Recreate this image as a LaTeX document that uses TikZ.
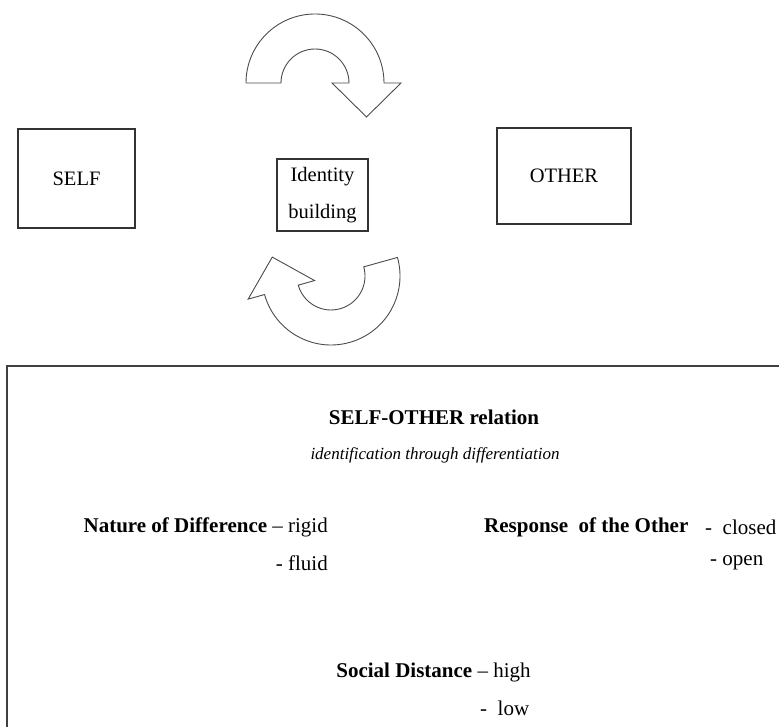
\documentclass[tikz,border=0pt]{standalone}
\usepackage{fontspec}
\setmainfont{Liberation Serif}
\begin{document}
\begin{tikzpicture}[x=1pt,y=1pt,
  box/.style={draw=black!80,line width=1.4pt,inner sep=0pt,font=\fontsize{20.5}{37}\selectfont,align=center},
  txt/.style={inner sep=0pt,font=\fontsize{21}{24}\selectfont},
  itxt/.style={inner sep=0pt,font=\fontsize{17}{20}\selectfont\itshape},
  turn/.style={draw=black!70,line width=0.9pt,fill=white}]
\useasboundingbox (0,0) rectangle (779,727);
\clip (0,0) rectangle (779,727);
% boxes
\node[box,minimum width=117pt,minimum height=99pt] (self) at (76.5,548.5) {SELF};
\node[box,minimum width=91pt,minimum height=72pt] (id) at (322.5,532) {Identity\\building};
\node[box,minimum width=134pt,minimum height=96pt] (other) at (564,551) {OTHER};
% turning arrows
\begin{scope}[shift={(315,644)}]
  \draw[turn] (-69,0) arc[start angle=180,end angle=0,radius=69] -- (86,0) -- (51.5,-34) -- (17,0) -- (34,0) arc[start angle=0,end angle=180,radius=34] -- cycle;
\end{scope}
\begin{scope}[shift={(331,451)},rotate=195.6]
  \draw[turn] (-69,0) arc[start angle=180,end angle=0,radius=69] -- (86,0) -- (51.5,-34) -- (17,0) -- (34,0) arc[start angle=0,end angle=180,radius=34] -- cycle;
\end{scope}
% relation panel
\draw[draw=black!75,line width=2pt] (7,361) rectangle (800,-20);
\node[txt] (title) at (434,310) {\bfseries SELF-OTHER relation};
\node[itxt] (sub) at (435,272) {identification through differentiation};
\node[txt,anchor=east] (nature) at (328,200) {\textbf{Nature of Difference} -- rigid};
\node[txt,anchor=east] (fluid) at (328,164) {- fluid};
\node[txt,anchor=west] (resp) at (484,200) {\textbf{Response\ \ of the Other}};
\node[txt,anchor=west] (closed) at (705,200) {-\ \ closed};
\node[txt,anchor=west] (open) at (710,164) {- open};
\node[txt] (social) at (433.5,55) {\textbf{Social Distance} -- high};
\node[txt,anchor=west] (low) at (480,19) {-\ \ low};
\end{tikzpicture}
\end{document}
